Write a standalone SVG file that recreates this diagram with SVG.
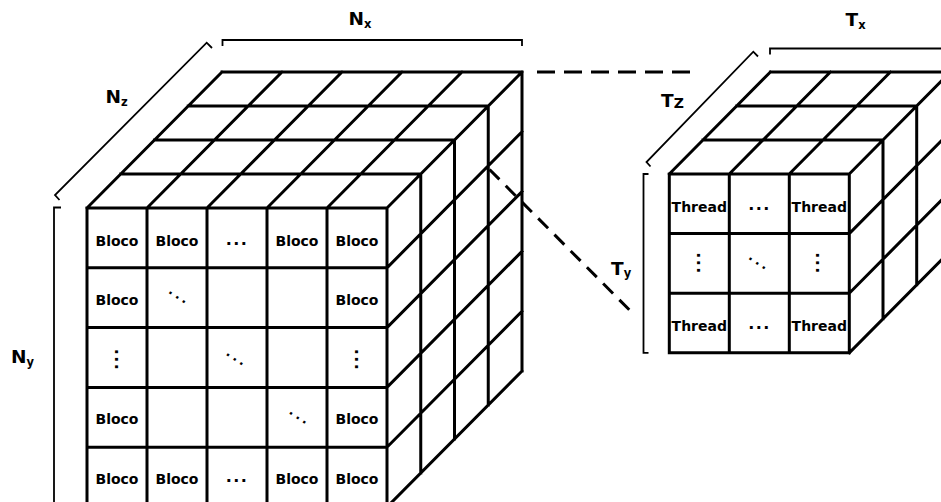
<svg xmlns="http://www.w3.org/2000/svg" width="941" height="502" viewBox="0 0 941 502">
  <style>
    .grid { fill: none; stroke: #000; stroke-width: 3; stroke-linecap: square; stroke-linejoin: miter; }
    .bracket { fill: none; stroke: #000; stroke-width: 1.8; }
    .dash { fill: none; stroke: #000; stroke-width: 3; }
    .cell { font-family: "DejaVu Sans", Verdana, sans-serif; font-weight: bold; font-size: 14px; text-anchor: middle; fill: #000; }
    .dots { font-family: "DejaVu Sans", sans-serif; font-weight: bold; font-size: 16px; text-anchor: middle; fill: #000; letter-spacing: 1.5px; }
    .diag { font-family: "DejaVu Sans", sans-serif; font-weight: bold; font-size: 13px; text-anchor: middle; fill: #000; letter-spacing: 3px; }
    .label { font-family: "DejaVu Sans", Verdana, sans-serif; font-weight: bold; font-size: 18.5px; fill: #000; }
    .sub { font-size: 11.5px; }
  </style>
  <rect width="941" height="502" fill="#fff"/>

  <!-- Grid of blocks: 5 x 5 front face, 4 layers deep -->
  <g id="grid-blocks">
    <path class="grid" d="
      M87,208 H387 M87,267.8 H387 M87,327.6 H387 M87,387.4 H387 M87,447.2 H387 M87,507 H387
      M87,208 V507 M147,208 V507 M207,208 V507 M267,208 V507 M327,208 V507 M387,208 V507
      M120.75,174 H420.75 M154.5,140 H454.5 M188.25,106 H488.25 M222,72 H522
      M87,208 L222,72 M147,208 L282,72 M207,208 L342,72 M267,208 L402,72 M327,208 L462,72 M387,208 L522,72
      M420.75,174 V473 M454.5,140 V439 M488.25,106 V405 M522,72 V371
      M387,267.8 L522,131.8 M387,327.6 L522,191.6 M387,387.4 L522,251.4 M387,447.2 L522,311.2 M387,507 L522,371"/>
    <g class="cell">
      <text x="117" y="245.5">Bloco</text>
      <text x="177" y="245.5">Bloco</text>
      <text x="297" y="245.5">Bloco</text>
      <text x="357" y="245.5">Bloco</text>
      <text x="117" y="304.7">Bloco</text>
      <text x="357" y="304.7">Bloco</text>
      <text x="117" y="424.1">Bloco</text>
      <text x="357" y="424.1">Bloco</text>
      <text x="117" y="483.9">Bloco</text>
      <text x="177" y="483.9">Bloco</text>
      <text x="297" y="483.9">Bloco</text>
      <text x="357" y="483.9">Bloco</text>
    </g>
    <!-- ellipses: horizontal, vertical (rotated 90) and diagonal (rotated 34) -->
    <text class="dots" x="237" y="245">...</text>
    <text class="dots" x="237" y="481.5">...</text>
    <text class="dots" x="117" y="361.7" transform="rotate(90 117 360)">...</text>
    <text class="dots" x="357" y="361.7" transform="rotate(90 357 360)">...</text>
    <text class="diag" x="178.5" y="299.4" transform="rotate(34 178.5 298)">...</text>
    <text class="diag" x="236" y="361.4" transform="rotate(34 236 360)">...</text>
    <text class="diag" x="299" y="419.9" transform="rotate(34 299 418.5)">...</text>
  </g>

  <!-- Block of threads: 3 x 3 front face, 3 layers deep -->
  <g id="block-threads">
    <path class="grid" d="
      M669.3,174 H849.3 M669.3,233.6 H849.3 M669.3,293.2 H849.3 M669.3,352.8 H849.3
      M669.3,174 V352.8 M729.3,174 V352.8 M789.3,174 V352.8 M849.3,174 V352.8
      M703,140 H883 M736.7,106 H916.7 M770.4,72 H950.4
      M669.3,174 L770.4,72 M729.3,174 L830.4,72 M789.3,174 L890.4,72 M849.3,174 L950.4,72
      M883,140 V318.8 M916.7,106 V284.8 M950.4,72 V250.8
      M849.3,233.6 L950.4,131.6 M849.3,293.2 L950.4,191.2 M849.3,352.8 L950.4,250.8"/>
    <g class="cell">
      <text x="699.3" y="212">Thread</text>
      <text x="819.3" y="212">Thread</text>
      <text x="699.3" y="330.5">Thread</text>
      <text x="819.3" y="330.5">Thread</text>
    </g>
    <text class="dots" x="759.5" y="210">...</text>
    <text class="dots" x="759.5" y="328.5">...</text>
    <text class="dots" x="698.5" y="265.2" transform="rotate(90 698.5 263.5)">...</text>
    <text class="dots" x="817.5" y="265.2" transform="rotate(90 817.5 263.5)">...</text>
    <text class="diag" x="758.5" y="265.4" transform="rotate(34 758.5 264)">...</text>
  </g>

  <!-- Dimension brackets and labels -->
  <g id="dimensions">
    <path class="bracket" d="M222.5,46 V40 H522 V46"/>
    <path class="bracket" d="M59.5,200 L55,195 L206.7,42.7 L212,48"/>
    <path class="bracket" d="M61,207.5 H54 V510"/>
    <path class="bracket" d="M770,54.5 V48.5 H960"/>
    <path class="bracket" d="M650.5,166.5 L646.5,162 L753.3,51.7 L758,56.5"/>
    <path class="bracket" d="M648.5,174 H643.5 V352.8 H648.5"/>
    <text class="label" x="348.5" y="25">N<tspan class="sub" dy="3">x</tspan></text>
    <text class="label" x="105.5" y="103.3">N<tspan class="sub" dy="2.7">z</tspan></text>
    <text class="label" x="11" y="363.3">N<tspan class="sub" dy="2.5">y</tspan></text>
    <text class="label" x="845.5" y="26">T<tspan class="sub" dy="3.3">x</tspan></text>
    <text class="label" x="661" y="107.3">T<tspan font-size="14px" dy="1">Z</tspan></text>
    <text class="label" x="611" y="275">T<tspan class="sub" dy="2">y</tspan></text>
  </g>

  <!-- Dashed connectors from one block to its thread grid -->
  <g id="connectors">
    <path class="dash" stroke-dasharray="18 9" d="M537,72 H690"/>
    <path class="dash" stroke-dasharray="14 9" d="M489.5,169.5 L630.5,311"/>
  </g>
</svg>
